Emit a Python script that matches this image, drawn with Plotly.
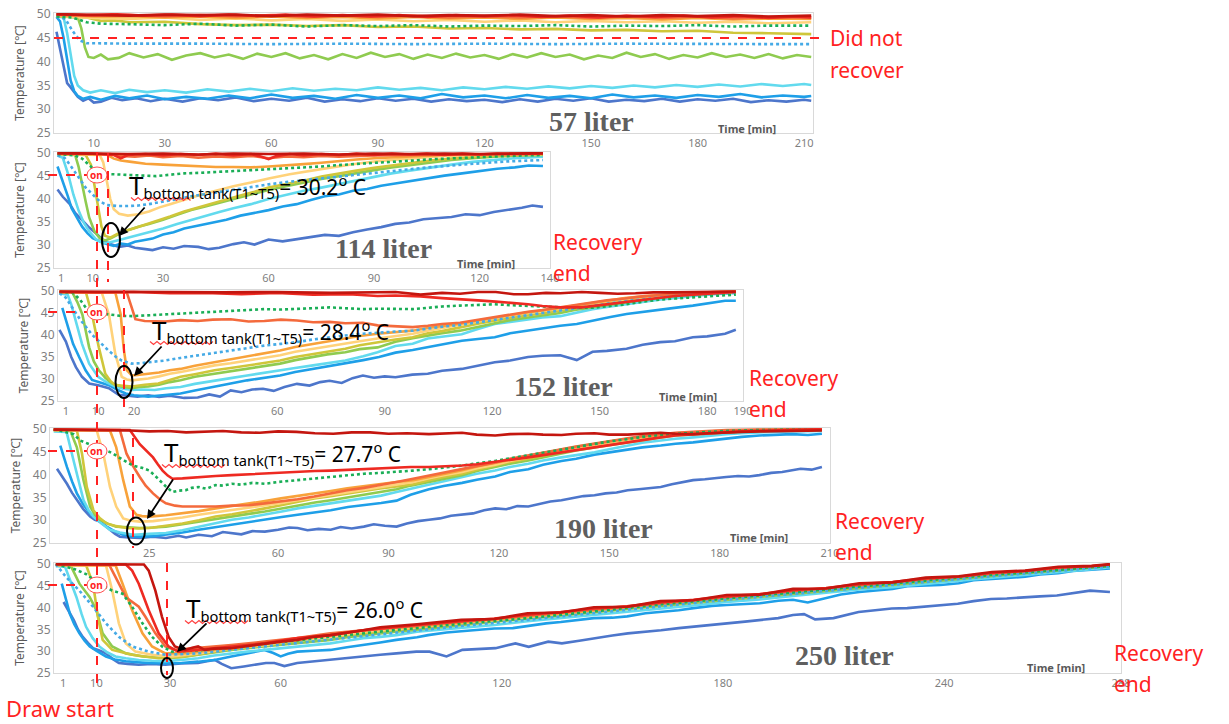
import plotly.graph_objects as go

# ---------------- DATA (time [min], temperature [°C]) ----------------
TIME_LABEL = "Time [min]"
TANK_LABELS = ["57 liter", "114 liter", "152 liter", "190 liter", "250 liter"]
BOTTOM_T = ["30.2", "28.4", "27.7", "26.0"]
Y_TICKS = [25, 30, 35, 40, 45, 50]
X_TICKS_57 = [10, 30, 60, 90, 120, 150, 180, 210]
X_TICKS_114 = [1, 10, 30, 60, 90, 120, 140]
X_TICKS_152 = [1, 10, 20, 60, 90, 120, 150, 180, 190]
X_TICKS_190 = [25, 60, 90, 120, 150, 180, 210]
X_TICKS_250 = [1, 10, 30, 60, 120, 180, 240, 288]
SETPOINT = 45

# ---- 57 liter ----
V57_T1 = [[-0.5,46.3],[0.5,42.5],[1.5,38.5],[2.5,35.5],[3.5,34.6],[4.5,33.5],[5.5,32.6],[7,31.8],[8.5,32.3],[10,31.4],[12,31.6],[15,32.4],[18,31.9],[22,32.3],[26,31.7],[30,32.2],[35,31.6],[40,32.3],[45,31.9],[50,32.5],[55,31.7],[60,32.2],[65,31.8],[70,32.4],[75,31.6],[80,32.1],[85,31.7],[90,32.3],[95,31.8],[100,32.2],[105,31.6],[110,32.1],[115,31.7],[120,32.0],[125,31.5],[130,32.1],[135,31.6],[140,32.2],[145,31.8],[150,32.3],[155,31.6],[160,32.0],[165,31.7],[170,32.2],[175,31.6],[180,32.1],[185,31.8],[190,32.2],[195,31.5],[200,31.9],[205,31.6],[210,32.0],[212,31.8]]
V57_T2 = [[-0.5,49.4],[0.5,48.5],[1.5,45],[2.5,40],[3.5,36],[4.5,33.8],[5.5,32.8],[7,32.2],[9,32.6],[12,32.0],[16,32.8],[20,32.3],[25,32.9],[30,32.1],[36,32.6],[42,32.2],[48,32.9],[54,32.3],[60,33.1],[66,32.4],[72,32.8],[78,32.2],[84,33.0],[90,32.4],[96,32.9],[102,32.3],[108,33.2],[114,32.5],[120,32.9],[126,32.3],[132,33.0],[138,32.4],[144,32.8],[150,32.3],[156,33.1],[162,32.5],[168,32.9],[174,32.4],[180,33.0],[186,32.6],[192,33.2],[198,32.5],[204,32.9],[210,32.6],[212,32.8]]
V57_T3 = [[-0.5,49.5],[1.5,49.3],[2.5,46],[3.5,41],[4.5,37],[5.5,35],[7,34],[9,33.5],[12,34],[16,33.4],[20,34.1],[25,33.6],[30,34],[36,33.5],[42,34.2],[48,33.7],[54,34.3],[60,33.8],[66,34.4],[72,33.9],[78,34.3],[84,34.0],[90,34.6],[96,34.1],[102,34.5],[108,34.0],[114,34.6],[120,34.2],[126,34.7],[132,34.3],[138,34.8],[144,34.4],[150,34.9],[156,34.5],[162,35.0],[168,34.6],[174,35.1],[180,34.7],[186,35.2],[192,34.8],[198,35.3],[204,34.9],[210,35.3],[212,35.1]]
V57_T4 = [[-0.5,49.6],[5.5,49.3],[6.5,47],[7.5,43],[8.5,41],[10,40.8],[12,41.5],[14,40.5],[17,40.8],[20,41.8],[24,40.9],[28,41.6],[32,40.4],[36,41.3],[40,41.8],[44,40.9],[48,41.5],[52,40.6],[56,41.7],[60,41.0],[64,41.8],[68,40.7],[72,41.4],[76,40.5],[80,41.6],[84,40.8],[88,41.9],[92,41.0],[96,41.6],[100,40.6],[104,41.5],[108,40.8],[112,41.7],[116,40.9],[120,41.4],[124,40.6],[128,41.6],[132,40.9],[136,41.8],[140,41.0],[144,41.5],[148,40.5],[152,41.3],[156,40.8],[160,41.9],[164,41.0],[168,41.6],[172,40.6],[176,41.4],[180,40.9],[184,41.8],[188,41.0],[192,41.5],[196,40.8],[200,41.6],[204,40.7],[208,41.4],[212,41.0]]
V57_T5 = [[-0.5,49.6],[8,49.3],[12,48.6],[16,48.7],[20,48.3],[30,48.4],[40,47.9],[50,47.7],[60,47.8],[70,47.5],[80,47.7],[90,47.3],[100,47.4],[110,47.0],[120,47.1],[130,46.8],[140,46.9],[150,46.6],[160,46.7],[170,46.4],[180,46.5],[190,46.1],[200,46.0],[212,45.8]]
V57_T6 = [[-0.5,49.7],[10,49.2],[20,49.0],[30,49.3],[40,48.8],[50,49.1],[60,48.7],[70,49.0],[80,48.6],[90,48.9],[100,48.5],[110,48.8],[120,48.4],[130,48.7],[140,48.3],[150,48.6],[160,48.3],[170,48.5],[180,48.2],[190,48.4],[200,48.1],[212,48.3]]
V57_T7 = [[-0.5,49.8],[10,49.5],[20,49.6],[30,49.3],[40,49.5],[50,49.2],[60,49.5],[70,49.2],[80,49.4],[90,49.1],[100,49.4],[110,49.1],[120,49.3],[130,49.0],[140,49.3],[150,49.0],[160,49.2],[170,48.9],[180,49.2],[190,48.9],[200,49.1],[212,49.0]]
V57_T8 = [[-0.5,49.9],[10,49.7],[20,49.8],[30,49.5],[40,49.8],[50,49.5],[60,49.8],[70,49.4],[80,49.7],[90,49.4],[100,49.7],[110,49.3],[120,49.6],[130,49.3],[140,49.6],[150,49.2],[160,49.5],[170,49.2],[180,49.5],[190,49.1],[200,49.4],[212,49.2]]
V57_T9 = [[-0.5,50],[8,49.8],[16,50],[24,49.7],[32,49.9],[40,49.6],[48,49.9],[56,49.6],[64,49.9],[72,49.5],[80,49.8],[88,49.5],[96,49.8],[104,49.4],[112,49.8],[120,49.5],[128,49.8],[136,49.4],[144,49.7],[152,49.3],[160,49.7],[168,49.4],[176,49.7],[184,49.3],[192,49.6],[200,49.2],[208,49.5],[212,49.3]]
V57_T10 = [[-0.5,50],[10,49.9],[20,49.7],[30,49.9],[40,49.8],[50,49.9],[60,49.6],[70,49.9],[80,49.7],[90,49.9],[100,49.6],[110,49.8],[120,49.7],[130,49.9],[140,49.6],[150,49.8],[160,49.5],[170,49.8],[180,49.6],[190,49.8],[200,49.5],[212,49.7]]
V57_D1 = [[-0.5,49.5],[4,49.3],[8,48.3],[12,48.0],[20,47.9],[30,47.7],[40,48.0],[50,47.6],[60,47.8],[70,47.4],[80,47.7],[90,47.5],[100,47.7],[110,47.4],[120,47.6],[130,47.5],[140,47.7],[150,47.4],[160,47.6],[170,47.5],[180,47.7],[190,47.4],[200,47.6],[212,47.6]]
V57_D2 = [[-0.5,49.5],[2,49.0],[4,46.5],[6,44.5],[8,43.9],[20,43.8],[40,43.8],[60,43.7],[80,43.8],[100,43.7],[120,43.8],[140,43.7],[160,43.8],[180,43.7],[200,43.7],[212,43.7]]

# ---- 114 liter ----
V114_T1 = [[0,42.1],[1.5,40.5],[3.5,38.9],[5,37],[7,35.4],[9,33.8],[11,32.5],[13,31],[15,30.2],[17.5,29.6],[20,29.9],[22,29.4],[25,29.1],[27,28.9],[30,29.5],[33,29.2],[36,29.8],[40,29.6],[43,29.1],[46,29.4],[50,30.2],[53,30.6],[56,30.1],[60,31.2],[64,30.8],[68,31.3],[72,31.7],[76,32.2],[80,32.0],[84,32.8],[88,33.4],[92,33.9],[96,34.6],[100,34.9],[104,35.6],[108,35.9],[112,36.1],[116,36.7],[120,36.5],[124,37.2],[128,37.6],[132,38.1],[135,38.6],[138,38.3]]
V114_T2 = [[0,47.1],[1,45],[2,43],[3,40.5],[4,38],[5.5,36],[7,34],[8.5,32.6],[10,31.5],[12,30.8],[14,30.2],[16,29.8],[18,30.3],[20,30.1],[22,30.7],[24,31.0],[27,31.4],[30,32.3],[33,32.8],[36,33.6],[40,34.2],[44,34.8],[48,35.5],[52,36.4],[56,37.0],[60,37.6],[64,38.4],[68,38.9],[72,39.8],[76,40.6],[80,41.0],[84,41.8],[88,42.2],[92,42.9],[96,43.4],[100,43.9],[105,44.6],[110,45.1],[115,45.6],[120,46.1],[125,46.6],[130,46.9],[134,47.3],[138,47.2]]
V114_T3 = [[0,49.5],[1.5,49],[3,45.5],[4.5,41],[6,37.5],[7.5,34.8],[9,33],[11,31.2],[13,30.4],[15,30.6],[17,31],[20,31.6],[23,32.3],[26,32.9],[30,33.6],[34,34.6],[38,35.5],[42,36.3],[46,37.2],[50,38],[55,38.9],[60,40],[65,40.9],[70,41.8],[75,42.5],[80,43.3],[85,44.1],[90,44.9],[95,45.6],[100,46.2],[106,46.9],[112,47.5],[118,48.1],[124,48.5],[130,48.9],[138,49.2]]
V114_T4 = [[0,49.8],[5,49.6],[6,47],[7,43],[8,39.5],[9,36],[10.5,33],[12,31.5],[13.5,31],[15,31.4],[17,32.2],[20,33.2],[23,34],[26,34.6],[30,35.5],[34,36.6],[38,37.6],[42,38.4],[46,39.2],[50,40],[55,41],[60,42],[65,42.8],[70,43.6],[75,44.4],[80,45],[85,45.7],[90,46.3],[95,46.9],[100,47.4],[106,48],[112,48.5],[118,48.9],[125,49.3],[132,49.5],[138,49.6]]
V114_T5 = [[0,49.8],[8,49.6],[9.5,47.5],[10.5,43],[11.5,38],[12.5,34],[13.5,32],[15,31.6],[17,32.4],[19,33],[22,33.7],[25,34.4],[28,35.2],[32,36.2],[36,37.3],[40,38.2],[44,39.1],[48,40],[52,40.8],[56,41.6],[60,42.5],[65,43.3],[70,44],[75,44.9],[80,45.6],[85,46.2],[90,46.8],[95,47.3],[100,47.8],[106,48.4],[112,48.8],[118,49.2],[125,49.5],[138,49.7]]
V114_T6 = [[0,49.8],[12,49.6],[13,48],[14,44],[15,40],[16,37.8],[17.5,36.8],[20,36.4],[23,36.7],[26,37.3],[29,38.2],[32,38.9],[36,39.9],[40,40.8],[45,41.8],[50,42.8],[55,43.6],[60,44.5],[66,45.4],[72,46.2],[78,46.9],[84,47.6],[90,48.2],[96,48.6],[102,49],[110,49.4],[120,49.6],[138,49.8]]
V114_T7 = [[0,49.8],[14,49.7],[16,48.8],[18,48.4],[21,48.1],[25,47.7],[30,47.5],[35,47.3],[40,47.2],[45,47.0],[50,47.0],[55,46.9],[60,47.1],[65,47.3],[70,47.6],[75,47.9],[80,48.3],[85,48.6],[90,48.9],[95,49.1],[100,49.3],[110,49.6],[120,49.7],[138,49.9]]
V114_T8 = [[0,49.9],[15,49.8],[18,49.4],[22,49.2],[26,49.5],[30,49.1],[35,49.4],[40,49.0],[45,49.3],[50,49.1],[55,49.4],[60,48.9],[65,49.3],[70,49.1],[75,49.4],[80,49.2],[90,49.5],[100,49.6],[110,49.7],[120,49.8],[138,49.9]]
V114_T9 = [[0,50],[10,49.9],[16,49.6],[18,48.9],[20,49.6],[25,49.8],[30,49.5],[35,49.8],[40,49.6],[45,49.9],[50,49.5],[55,49.8],[58,49.2],[60,48.7],[62,49.3],[66,49.8],[70,49.5],[75,49.8],[80,49.6],[85,49.9],[90,49.6],[95,49.9],[100,49.7],[105,49.9],[110,49.6],[115,49.9],[120,49.7],[125,49.9],[130,49.8],[138,49.9]]
V114_T10 = [[0,50],[10,49.9],[20,49.8],[30,49.9],[40,49.7],[50,49.9],[60,49.8],[70,49.9],[80,49.7],[90,49.9],[100,49.8],[110,49.9],[120,49.8],[138,50]]
V114_D1 = [[0,49.8],[5,49.5],[7,48.8],[9,47.5],[11,46],[13,45.5],[16,45.4],[20,45.3],[24,45.2],[28,45],[32,45.3],[36,45.6],[40,45.7],[45,45.9],[50,46],[55,46.2],[60,46.4],[65,46.6],[70,46.9],[75,47.1],[80,47.4],[85,47.7],[90,47.9],[95,48.1],[100,48.4],[105,48.6],[110,48.8],[118,49.1],[126,49.3],[132,49.5],[138,49.6]]
V114_D2 = [[0,49.5],[2,49],[3.5,47.5],[5,45.8],[6.5,44],[8,42.5],[10,41],[12,39.5],[14,38.7],[17,38.5],[20,38.5],[23,38.6],[26,38.9],[30,39.4],[34,40],[38,40.6],[42,41.1],[46,41.6],[50,42.1],[55,42.7],[60,43.2],[65,43.7],[70,44.1],[75,44.6],[80,45],[86,45.5],[92,45.9],[98,46.4],[104,46.8],[110,47.2],[116,47.6],[122,47.9],[128,48.2],[133,48.4],[138,48.5]]

# ---- 152 liter ----
V152_T1 = [[-0.8,41.2],[1,38.5],[2.5,35],[3.8,32.7],[5.5,30.5],[7.5,29],[10,28.6],[13,27.9],[15.7,26.4],[18,26.2],[21,26],[24,26.3],[27,25.9],[30,26.2],[34,25.7],[37.8,25.8],[41,26.5],[44,26.0],[47,27.4],[50,27.0],[53,27.6],[56,27.8],[59,27.3],[62,28.2],[65.5,28.9],[69,28.5],[72,29.3],[74.6,29.6],[78,29.1],[81,30.2],[83.9,30.8],[87,30.3],[90,30.6],[93,30.4],[97.7,31],[102,31.2],[106,31.9],[111.5,32.3],[116,33.1],[120.7,33.8],[125,34.2],[130,35],[134,35.3],[139,35.4],[143.6,34.3],[148,36.2],[152,36.4],[157.5,36.9],[162,37.8],[166.9,38.4],[171,38.6],[176,39.5],[180,39.7],[185,40.3],[188,41.2]]
V152_T2 = [[0,46.2],[1.5,42],[3,38],[4.7,35],[6.5,32],[8.3,29.8],[10.5,29.2],[13,28.6],[15.5,27.5],[17.7,26.7],[20,26.3],[24,26],[28,26.3],[33,26.7],[37,27.4],[42.5,28.2],[47,29],[51.6,29.7],[56,30.2],[60.8,30.8],[65,31.6],[70,32.3],[74,32.9],[79,33.5],[84,34.3],[88.4,35],[93,36],[97.8,36.6],[102,37.2],[107,37.9],[111.5,38.7],[116,39.1],[120.7,39.5],[125,40.4],[130,41],[134,41.6],[139,42.1],[143.6,42.5],[148,43.3],[153,44.1],[157.5,44.8],[162,45.3],[167,45.9],[172,46.3],[176,46.7],[181,47.3],[185,47.8],[188,47.8]]
V152_T3 = [[-0.8,49.5],[1.5,49.2],[2.5,47],[3.8,43.2],[5.5,38],[7.5,33.5],[10,30.5],[12.5,29.2],[14.8,28.3],[17,27.8],[19.5,27.5],[22,27.6],[25.8,27.5],[29,27.9],[33,28.2],[37,28.9],[42.5,29.7],[47,30.2],[51.6,30.8],[56,31.4],[60.8,32],[65,32.5],[70,33.1],[74,33.6],[79,34.2],[84,35.2],[88,36.1],[93,37.5],[97.8,38],[102,39.2],[107,39.7],[111.5,40.2],[116,41.4],[120.7,42.5],[125,43],[130,43.6],[134,44],[139,44.3],[143.6,45.1],[148,45.9],[153,46.5],[157.5,47],[162,47.6],[167,48.1],[172,48.5],[176,48.9],[182,49.3],[188,49.6]]
V152_T4 = [[-0.8,49.8],[2.8,49.7],[4.2,47.5],[5.6,44.7],[7.5,37.2],[8.8,34],[10.2,32],[12,30.3],[13.9,29],[16.5,28.3],[19.4,27.9],[21.5,28.2],[24,28.3],[27,28.7],[30,29.3],[33,29.7],[37,30.5],[42.5,31.2],[47,31.8],[51.6,32.3],[56,33],[60.8,33.5],[65,34.3],[70,35],[74,35.6],[79,36.1],[83,36.8],[88,37.2],[93,38.5],[97.8,39.3],[102,39.9],[106,40.4],[111,41],[116,41.9],[121,42.8],[125,43.4],[130,44],[134,44.4],[139,45],[143,45.7],[148,46.3],[152,46.8],[157,47.5],[162,48],[167,48.5],[171,48.9],[176,49.2],[182,49.5],[188,49.7]]
V152_T5 = [[-0.8,49.8],[6.6,49.7],[8.3,44.7],[10.2,37.2],[12,31.2],[13.5,29.5],[14.8,28.6],[17,28.4],[19.4,28.3],[23,28.7],[26.8,29],[30,29.8],[33,30.5],[37,31.1],[42.5,32],[47,32.5],[51.6,33.1],[56,33.7],[60.8,34.2],[65,35],[70,35.7],[74,36.3],[79,36.9],[83,37.7],[88,38.4],[93,39],[97.8,39.5],[102,40.4],[106,40.9],[111,41.8],[116,42.6],[121,43.3],[125,43.9],[130,44.5],[134,44.9],[139,45.5],[143,46.1],[148,46.8],[152,47.2],[157,47.8],[162,48.3],[167,48.8],[171,49.1],[176,49.4],[182,49.6],[188,49.8]]
V152_T6 = [[-0.8,49.8],[11,49.7],[13,44.7],[14.8,35.7],[16.6,30.5],[18,29.9],[19.4,29.7],[22,29.9],[24,30.1],[27,30.6],[30,31.2],[33,31.6],[37,32.3],[42.5,33.1],[47,33.6],[51.6,34.2],[56,34.8],[60.8,35.4],[65,36.2],[70,36.9],[74,37.4],[79,38],[83,38.6],[88,39.2],[93,39.8],[97.8,40.3],[102,41],[106,41.6],[111,42.3],[116,43.1],[121,43.8],[125,44.4],[130,45],[134,45.4],[139,46],[143,46.5],[148,47.2],[152,47.6],[157,48.2],[162,48.6],[167,49],[171,49.3],[176,49.5],[182,49.7],[188,49.8]]
V152_T7 = [[-0.8,49.8],[14.8,49.7],[16.3,44.7],[17.1,37.2],[18,32],[19.4,30.8],[21,30.9],[24,31.2],[27,31.5],[30,32],[33,32.3],[37,33],[42.5,33.8],[47,34.4],[51.6,35],[56,35.8],[60.8,36.5],[65,37.3],[70,38],[74,38.6],[79,39.2],[83,39.8],[88,40.3],[93,40.7],[97.8,41],[102,41.6],[106,42],[111,42.6],[116,43.3],[121,44],[125,44.6],[130,45.2],[134,45.6],[139,46.2],[143,46.7],[148,47.4],[152,47.8],[157,48.4],[162,48.8],[167,49.1],[171,49.4],[176,49.6],[182,49.8],[188,49.9]]
V152_T8 = [[-0.8,49.8],[18,49.7],[19.4,46.2],[20.4,43.6],[23,43.2],[28.7,43.1],[33,43.4],[37.8,43.2],[42,43.5],[47,43.6],[52,43.1],[56.4,43.2],[61,43.5],[65.5,43.3],[70,42.9],[74.6,43.0],[79,42.7],[83.9,42.8],[88,42.2],[93,42.0],[97.8,41.8],[102,42.1],[106,42.5],[111,42.8],[116,43.5],[121,44.1],[125,44.7],[130,45.3],[134,45.7],[139,46.3],[143,46.8],[148,47.4],[152,47.9],[157,48.3],[162,48.8],[167,49.1],[171,49.4],[176,49.6],[182,49.8],[188,49.9]]
V152_T9 = [[-0.8,49.8],[10,49.7],[20,49.8],[30,49.5],[40,49.6],[50,49.3],[60,49.6],[70,49.2],[80,49.3],[88,48.9],[93,49],[100,48.8],[106,48.4],[111,48.2],[116,47.9],[121,47.6],[125,47.4],[130,47],[134,46.6],[139,46.3],[145,46.3],[150,46.8],[157,47.5],[162,48],[167,48.5],[171,48.9],[176,49.2],[182,49.5],[188,49.8]]
V152_T10 = [[-0.8,49.9],[15,49.9],[30,49.8],[45,49.7],[60,49.8],[75,49.6],[88,49.8],[93,49.8],[100,49.2],[106,49.6],[111,49.4],[116,49.8],[121,49.8],[126,49.3],[130,49.3],[135,49.6],[139,49.5],[145,49.8],[150,49.6],[155,49.4],[160,49.5],[165,49.7],[170,49.7],[176,49.8],[182,49.8],[188,49.9]]
V152_D1 = [[-0.8,49.8],[3,49.6],[5,48],[6.6,46.2],[9,45.3],[11,44.9],[13,44.7],[16,44.4],[19.4,44.3],[24,44.5],[28.7,44.7],[33,44.8],[37.8,45],[42,45.3],[47,45.5],[51,45.7],[56.4,45.9],[61,45.8],[65.5,45.9],[70,46.1],[74.6,46.3],[79,46.1],[83.9,45.9],[88,46],[93,45.9],[97.8,45.9],[102,46.2],[106,46.5],[111,46.7],[116,46.9],[120.7,47],[125,46.8],[130,46.6],[134,46.4],[139,46.2],[143,46.2],[148,46.2],[152,46.5],[157.5,47],[162,47.6],[167,48.1],[171,48.3],[176,48.5],[182,48.9],[188,49.2]]
V152_D2 = [[-0.8,49.5],[1,48.5],[2.8,46.2],[5,43.5],[8.3,40.1],[10.5,38.3],[13,36.4],[15,35],[16.6,34.2],[19.4,33.5],[22,33.6],[25,33.9],[28.7,34.2],[33,34.8],[37.8,35.4],[42,35.9],[47,36.5],[51,37],[56.4,37.6],[61,38],[65.5,38.4],[70,39],[74.6,39.5],[79,39.9],[83.9,40.3],[88,40.6],[93,40.8],[97.8,41],[102,41.5],[106,41.9],[111,42.3],[116,42.9],[121,43.5],[125,44],[130,44.6],[134,45],[139,45.6],[143,46.1],[148,46.7],[152,47.1],[157,47.7],[162,48.1],[167,48.6],[171,48.9],[176,49.2],[182,49.4],[188,49.6]]

# ---- 190 liter ----
V190_T1 = [[-0.1,41.3],[1.3,39.6],[2.6,38],[4,36],[5.3,34.4],[7,32.5],[8.9,30.8],[10.2,30.1],[11.6,29.7],[13,28.7],[14.3,27.9],[15.7,27],[17,26.4],[19.5,26.2],[22.4,26.1],[26,26.4],[29.5,26.1],[33,26.6],[35,26.2],[38.4,26.8],[42,26.5],[45,27.4],[47.4,27.2],[50,26.9],[53,27.6],[56.4,27.5],[60,27.9],[63,28.4],[65.3,28.3],[68,27.8],[71,28.1],[74.3,27.9],[77,28.5],[80,28.2],[83.3,28.6],[86,29.1],[89,28.8],[92.2,28.6],[95,29.3],[98,29.8],[101,30.1],[104,30.4],[107,31.0],[110,31.2],[113,31.5],[116,32.2],[119,32.6],[122,32.4],[125,33.1],[128,33],[131,33.6],[134,34.1],[137,34.4],[140,34.8],[143,35.3],[146,35.5],[149,35.9],[152,36.1],[155,36.6],[158,36.8],[161,37.1],[164,37.3],[167,37.9],[170,38.4],[172.8,38.8],[176,39.0],[179,39.3],[181.8,39.5],[185,39.7],[188,39.6],[190.8,39.9],[194,40.4],[197,40.6],[199.7,40.9],[202,41.3],[205,41.1],[207.8,41.7]]
V190_T2 = [[0.8,46.4],[1.7,44],[2.6,41.7],[4,38.5],[5.3,35.9],[7,33.5],[8.9,31.5],[11,30],[13.4,28.6],[15.5,27.6],[17.9,26.8],[20,26.5],[22.4,26.4],[26,26.5],[29.5,26.8],[34,27.3],[38.4,27.9],[43,28.5],[47.4,29],[52,29.6],[56.4,30.1],[61,30.7],[65.3,31.2],[70,31.7],[74.3,32.2],[79,32.9],[83.3,33.3],[88,33.8],[92.2,34.3],[96,35.6],[101,36.8],[105,37.5],[110,38.2],[114,38.9],[119,39.6],[123,40.6],[128,41.2],[132,42.2],[137,43],[141,43.5],[146,44.4],[150,44.9],[155,45.6],[159,46],[164,46.4],[168,46.8],[172.8,47.1],[177,47.5],[181.8,47.8],[186,48.3],[190.8,48.6],[195,48.7],[199.7,48.9],[204,48.7],[207.8,49]]
V190_T3 = [[-1,49.5],[2.5,49.4],[4.4,43.1],[5.8,38.5],[7.1,34.4],[8.5,32.2],[9.8,30.8],[12,29.3],[14.3,27.9],[17,27.3],[20.5,26.8],[25,27],[29.5,27.2],[34,27.8],[38.4,28.6],[43,29.4],[47.4,30.1],[52,30.6],[56.4,31.2],[61,31.9],[65.3,32.6],[70,33.2],[74.3,33.7],[79,34.3],[83.3,34.8],[88,35.4],[92.2,36.2],[96,36.9],[101,37.7],[105,38.6],[110,39.5],[114,40.2],[119,40.9],[123,41.7],[128,42.4],[132,43.1],[137,43.8],[141,44.3],[146,44.9],[150,45.6],[155,46.4],[159,47],[164,47.5],[168,47.9],[172.8,48.2],[177,48.6],[181.8,48.9],[186,49.1],[190.8,49.3],[199.7,49.5],[207.8,49.6]]
V190_T4 = [[-1,49.8],[3.5,49.7],[5.3,46],[7.1,38.8],[8.9,33],[10.2,31.2],[11.6,30.1],[13.8,29.2],[16,28.6],[19,28.4],[22.4,28.3],[26,28.4],[29.5,28.6],[34,29.1],[38.4,29.7],[43,30.2],[47.4,30.8],[52,31.4],[56.4,31.9],[61,32.6],[65.3,33.3],[70,33.9],[74.3,34.4],[79,35],[83.3,35.5],[88,36.1],[92.2,36.8],[96,37.6],[101,38.4],[105,39.1],[110,39.9],[114,40.8],[119,41.7],[123,42.4],[128,43.1],[132,43.8],[137,44.6],[141,45.3],[146,46],[150,46.5],[155,47.1],[159,47.7],[164,48.2],[168,48.6],[172.8,48.9],[177,49.1],[181.8,49.3],[190.8,49.6],[207.8,49.8]]
V190_T5 = [[-1,49.8],[5.3,49.7],[6.7,44.6],[8,37.3],[9.8,32.2],[11.5,30.5],[13.4,29.3],[16,28.7],[18.8,28.3],[22,28.2],[25,28.3],[29.5,28.8],[34,29.3],[38.5,30],[43,30.8],[47.5,31.3],[52,31.9],[56.4,32.6],[60.8,33.3],[65.3,34.1],[69.8,34.8],[74.3,35.3],[78.8,35.9],[83.3,36.5],[87.7,37],[92.2,37.4],[96.7,37.9],[101,38.8],[105,39.5],[110,40.2],[114,41.1],[119,42],[123,42.8],[128,43.5],[132,44.2],[137,45],[141,45.6],[146,46.3],[150,46.8],[155,47.4],[159,47.9],[164,48.4],[168,48.8],[172.8,49.1],[177,49.3],[181.8,49.5],[190.8,49.7],[207.8,49.9]]
V190_T6 = [[-1,49.8],[10.7,49.7],[12.5,44.6],[14.3,37.3],[16,33],[17.9,30.4],[20,29.9],[22.4,29.7],[26,29.8],[29.5,30.1],[34,30.6],[38.4,31.2],[43,31.7],[47.4,32.2],[52,32.8],[56.4,33.3],[61,33.8],[65.3,34.4],[70,35],[74.3,35.5],[79,36.1],[83.3,36.6],[88,37.2],[92.2,37.7],[96.7,38.4],[101,39.2],[105,39.9],[110,40.6],[114,41.4],[119,42.2],[123,43],[128,43.8],[132,44.5],[137,45.2],[141,45.8],[146,46.5],[150,47],[155,47.6],[159,48.1],[164,48.6],[168,48.9],[172.8,49.2],[177,49.4],[181.8,49.6],[190.8,49.8],[207.8,49.9]]
V190_T7 = [[-1,49.8],[14.3,49.7],[16,46],[17.9,38.8],[19.7,33],[21.5,31.2],[23,30.9],[25,30.8],[29.5,31.1],[34,31.5],[38.5,32],[43,32.6],[47.5,33.1],[52,33.7],[56.4,34.2],[60.8,34.8],[65.3,35.3],[69.8,35.9],[74.3,36.4],[78.8,37],[83.3,37.5],[87.7,38],[92.2,38.4],[96.7,38.8],[101,39.5],[105,40.2],[110,41],[114,41.8],[119,42.6],[123,43.4],[128,44.2],[132,44.8],[137,45.5],[141,46.1],[146,46.8],[150,47.3],[155,47.9],[159,48.3],[164,48.8],[168,49.1],[172.8,49.3],[177,49.5],[181.8,49.7],[190.8,49.8],[207.8,49.9]]
V190_T8 = [[-1,49.9],[17,49.8],[18.8,44.6],[20.5,42],[22.4,39.5],[24,37.6],[26,35.9],[28,34.5],[29.5,33.7],[32,33.2],[34,33],[38.5,33],[43,33],[47.5,33.2],[52,33.3],[56.4,33.7],[60.8,34.1],[65.3,34.6],[69.8,35.2],[74.3,35.9],[78.8,36.6],[83.3,37.1],[87.7,37.7],[92.2,38.4],[96.7,39.1],[101,39.8],[105,40.5],[110,41.2],[114,41.9],[119,42.7],[123,43.5],[128,44.3],[132,44.9],[137,45.6],[141,46.2],[146,46.9],[150,47.4],[155,48],[159,48.5],[164,48.9],[168,49.2],[172.8,49.4],[177,49.6],[181.8,49.8],[190.8,49.9],[207.8,50]]
V190_T9 = [[-1,49.9],[19.7,49.8],[22.4,46.7],[24,45.5],[26,43.8],[27.3,42.3],[28.6,40.9],[30,39.8],[31.3,39.1],[34,39.2],[38.4,39.5],[43,39.7],[47.4,39.9],[52,40.1],[56.4,40.2],[61,40.4],[65.3,40.6],[70,40.8],[74.3,40.9],[79,41.1],[83.3,41.3],[88,41.5],[92.2,41.7],[96,41.7],[101,41.7],[105,41.8],[110,42],[114,42.3],[119,42.8],[123,43.3],[128,43.8],[132,44.3],[137,44.9],[141,45.4],[146,46],[150,46.6],[155,47.1],[159,47.7],[164,48.2],[168,48.6],[172.8,48.9],[177,49.1],[181.8,49.3],[186,49.5],[190.8,49.6],[199.7,49.8],[207.8,50]]
V190_T10 = [[-1,49.9],[15,49.8],[20,49.7],[25,49.5],[30,49.6],[35,49.3],[40,49.4],[45,49.6],[50,49.3],[55,49.2],[60,49.5],[65,49.4],[70,49.1],[75,49],[80,49.3],[85,49.3],[90,49.0],[95,49.1],[101,48.9],[105,49.1],[110,49.2],[114,48.8],[119,48.6],[123,48.9],[128,49.0],[132,48.8],[137,48.7],[141,49.0],[146,49.1],[150,48.8],[155,48.8],[159,49.0],[164,49.2],[168,49.0],[172.8,48.9],[177,49.1],[181.8,49.3],[186,49.4],[190.8,49.5],[199.7,49.6],[207.8,49.7]]
V190_D1 = [[-1,50],[4.4,48.9],[6.2,47.5],[9,46.6],[11.6,46],[13.5,45.3],[15.2,44.6],[17.5,43.4],[20.5,42],[23,41.5],[25,40.9],[26.5,39.8],[27.7,38.8],[29.5,37.4],[31.3,36.2],[33,36.5],[34.9,36.6],[36.5,37.1],[38.4,37.3],[40.5,36.9],[43,37.7],[45,37.6],[47.4,38],[50,37.8],[53,38.2],[56.4,38],[60,38.4],[65.3,38.8],[70,39.2],[74.3,39.5],[79,39.9],[83.3,40.2],[88,40.4],[92.2,40.6],[96.7,40.9],[101,41.2],[105,41.5],[110,42],[114,42.5],[119,43],[123,43.6],[128,44.3],[132,44.9],[137,45.6],[141,46.2],[146,46.8],[150,47.3],[155,47.8],[159,48.3],[164,48.7],[168,49],[172.8,49.2],[177,49.4],[181.8,49.6],[190.8,49.8],[207.8,49.9]]

# ---- 250 liter ----
V250_T1 = [[1.1,41.3],[2.5,39.2],[3.9,37.1],[5,35],[6.3,33.3],[7.7,31.9],[9.1,30.7],[10.8,30.2],[12.6,29.5],[14.3,28.3],[16.1,27.3],[18.5,27.1],[21.5,26.9],[25,27.1],[28.7,26.9],[33,27.2],[37.6,27.3],[40,27.7],[42.1,28],[44,27.1],[46.6,26.1],[50,26.5],[53.8,26.9],[56,27.3],[58.3,27.3],[61,26.6],[64.5,27.3],[69,27.7],[73.5,28],[78,28.4],[82.4,28.8],[87,29.2],[91.4,29.5],[96.8,29.9],[100.4,29.9],[105,28.8],[109.3,30.3],[114,30.5],[118.3,30.7],[123.7,31.8],[127.3,31],[132.6,32.2],[136.3,31.8],[141,32.4],[145.2,33],[150,33.6],[154.2,34.1],[159,34.4],[163.2,34.8],[168,35.3],[172.1,35.6],[177,36.1],[181.1,36.4],[186,36.8],[190,37.1],[195,37.6],[199,38.3],[202,38.5],[205,37.3],[210,37.6],[216.8,39],[221,39.4],[225.8,39.8],[230,39.9],[234.7,40.2],[239,40.6],[243.7,40.9],[248,41.5],[252.7,42],[257,42.1],[261.6,42.4],[266,42.6],[270.6,42.8],[275,43.4],[279.6,43.9],[285,43.6]]
V250_T2 = [[0.6,45.5],[1.7,42],[2.8,38.6],[4,36.2],[5.4,34.1],[6.8,32.4],[8.2,31.1],[10.4,29.9],[12.6,28.8],[15,28.1],[18,27.7],[21,27.5],[24.2,27.3],[28.7,27.2],[33.1,27.3],[37.6,27.6],[42.1,28],[46.6,28.8],[51,29.5],[55.6,30.3],[58,29.6],[60,28.8],[62,29.4],[64.5,29.9],[69,30.1],[73.5,30.3],[78,30.9],[82.4,31.4],[87,32],[91.4,32.6],[97,33.2],[100,33.7],[105,34.3],[109,34.6],[114,35.0],[118,35.2],[123,35.3],[127,35.8],[132,36.4],[136,36.7],[141,37.2],[145,37.6],[150,37.7],[154,38.0],[159,38.7],[163,39.0],[168,39.4],[172,39.9],[177,40.4],[181,40.6],[186,40.9],[190,41.0],[195,41.6],[199,41.8],[203,41.2],[208,42.2],[212,43.0],[217,43.6],[221,43.9],[226,44.3],[230,44.9],[235,45.1],[239,45.2],[244,45.6],[248,46.3],[253,46.6],[257,46.8],[262,47.1],[266,47.6],[271,47.9],[275,48.4],[280,48.7],[285,49.0]]
V250_T3 = [[-1,49.5],[1.5,49.4],[3,46],[4.6,42.4],[6,38.5],[7.2,35.6],[9,33],[10.8,31.1],[13,29.7],[15.2,28.8],[18,28.4],[21.5,28],[25,27.8],[28.7,27.7],[33,28],[37.6,28.4],[42,29],[46.6,29.5],[51,29.9],[55.6,30.3],[60,30.7],[64.5,31.1],[69,31.4],[73.5,31.8],[78,32.4],[82.4,33],[87,33.3],[91.4,33.7],[97,34.5],[109,35.4],[118,36.0],[127,36.9],[136,37.6],[145,38.3],[154,39.1],[163,39.8],[172,40.5],[181,41.3],[190,41.9],[199,42.7],[208,43.4],[217,44.2],[226,44.7],[235,45.5],[244,46.2],[253,46.9],[262,47.5],[271,48.2],[280,48.8],[285,49.3]]
V250_T4 = [[-1,49.8],[3,49.7],[5.4,45.5],[8.2,42.4],[10,39.4],[11.7,34.1],[14.3,31.1],[18,29.5],[22.5,28.8],[28.7,28.4],[33,28.6],[37.6,29.2],[42,29.8],[46.6,30.3],[51,30.7],[55.6,31.1],[60,31.5],[64.5,31.8],[69,32.2],[73.5,32.6],[78,33.2],[82.4,33.7],[87,34.1],[91.4,34.5],[97,35.0],[109,36.0],[118,36.8],[127,37.5],[136,38.2],[145,39.0],[154,39.7],[163,40.4],[172,41.1],[181,41.8],[190,42.5],[199,43.2],[208,43.9],[217,44.6],[226,45.3],[235,46.0],[244,46.6],[253,47.3],[262,47.9],[271,48.6],[280,49.2],[285,49.6]]
V250_T5 = [[-1,49.8],[7.2,49.7],[9.1,45.5],[10.4,37.9],[11.7,32.6],[14.3,30.3],[19.7,29.2],[26.9,28.4],[34,28.8],[42.1,29.9],[51,31.1],[60,31.8],[68.9,33],[77.9,33.7],[86.9,34.6],[97,35.3],[109,36.3],[118,37.0],[127,37.7],[136,38.5],[145,39.2],[154,39.9],[163,40.6],[172,41.3],[181,42.0],[190,42.7],[199,43.4],[208,44.1],[217,44.8],[226,45.5],[235,46.2],[244,46.8],[253,47.5],[262,48.1],[271,48.7],[280,49.3],[285,49.7]]
V250_T6 = [[-1,49.8],[12.6,49.7],[14.3,43.9],[16.1,36.4],[18,31.8],[20.6,29.9],[25.1,29.2],[30.5,28.8],[37.6,29.5],[46.6,30.7],[55.6,31.4],[64.5,32.6],[73.5,33.3],[82.4,34.5],[91.4,35.1],[97,35.5],[109,36.5],[118,37.2],[127,37.9],[136,38.7],[145,39.4],[154,40.1],[163,40.8],[172,41.5],[181,42.2],[190,42.9],[199,43.6],[208,44.3],[217,45.0],[226,45.6],[235,46.3],[244,46.9],[253,47.6],[262,48.2],[271,48.8],[280,49.4],[285,49.7]]
V250_T7 = [[-1,49.8],[15.2,49.7],[17.1,45.5],[19.7,39.4],[22.5,34.1],[25.1,31.1],[28.7,29.5],[33.1,29.5],[42.1,30.3],[51,31.1],[60,32.2],[68.9,33.3],[77.9,34.3],[86.9,35.2],[97,35.7],[109,36.6],[118,37.3],[127,38.1],[136,38.8],[145,39.5],[154,40.2],[163,40.9],[172,41.6],[181,42.3],[190,43.0],[199,43.7],[208,44.4],[217,45.1],[226,45.7],[235,46.4],[244,47.0],[253,47.7],[262,48.3],[271,48.9],[280,49.4],[285,49.8]]
V250_T8 = [[-1,49.9],[13.5,49.8],[15.2,47],[18,42.4],[21.5,40.2],[23.3,37.9],[26,34.1],[28.7,31.1],[31.3,30.3],[37.6,30.7],[46.6,31.4],[55.6,32.2],[64.5,33],[73.5,34.1],[82.4,34.8],[91.4,35.4],[97,35.8],[109,36.8],[118,37.4],[127,38.2],[136,38.9],[145,39.6],[154,40.3],[163,41.0],[172,41.7],[181,42.4],[190,43.1],[199,43.8],[208,44.5],[217,45.2],[226,45.8],[235,46.5],[244,47.1],[253,47.8],[262,48.4],[271,49.0],[280,49.5],[285,49.8]]
V250_T9 = [[-1,50],[18,49.9],[19.7,48.5],[21.5,45.5],[24.2,39.4],[26.9,34.1],[29.6,31.1],[32.2,29.9],[37.6,30.3],[46.6,31.1],[55.6,31.8],[64.5,33],[73.5,33.7],[82.4,34.8],[91.4,35.6],[97,36.0],[109,36.9],[118,37.5],[127,38.4],[136,39.0],[145,39.8],[154,40.3],[163,41.2],[172,41.8],[181,42.6],[190,43.1],[199,44.0],[208,44.5],[217,45.4],[226,45.9],[235,46.7],[244,47.1],[253,48.0],[262,48.4],[271,49.2],[280,49.5],[285,49.9]]
V250_T10 = [[-1,50],[22.9,49.9],[24.2,48.5],[26,43.9],[27.8,37.9],[29.6,33.3],[31.3,31.1],[34,30.3],[36,30.8],[37.6,31.1],[39.4,30.3],[42,30.6],[46.6,30.7],[51,31.2],[55.6,31.8],[60,32.2],[64.5,32.6],[69,33.3],[73.5,33.7],[78,34.2],[82.4,34.8],[87,35.5],[91.4,35.8],[97,36.2],[109,37.2],[118,37.4],[127,38.7],[136,38.9],[145,40.1],[154,40.2],[163,41.5],[172,41.7],[181,42.9],[190,43.0],[199,44.3],[208,44.4],[217,45.6],[226,45.8],[235,46.9],[244,47.2],[253,48.2],[262,48.5],[271,49.4],[280,49.6],[285,50]]
V250_D1 = [[-1,50],[3.9,48.9],[7.2,47.7],[10.8,45.5],[14.3,43.9],[17.1,43.2],[19.7,40.2],[22.5,36.4],[25.1,33.3],[27.8,31.1],[30.5,29.9],[37.6,30.2],[46.6,30.9],[55.6,31.7],[64.5,32.6],[73.5,33.4],[82.4,34.2],[91.4,34.9],[97,35.3],[109,36.3],[127,37.6],[145,39.2],[163,40.7],[181,42.1],[199,43.5],[217,44.9],[235,46.2],[253,47.5],[271,48.7],[285,49.6]]
V250_D2 = [[-1,50],[1.8,47],[5.4,43.9],[9.1,40.2],[12.6,36.4],[16.1,33.3],[19.7,31.1],[24.2,29.9],[28.7,29.2],[37.6,29.5],[46.6,30.3],[55.6,31.1],[64.5,31.9],[73.5,32.8],[82.4,33.6],[91.4,34.4],[97,34.8],[109,35.8],[127,37.2],[145,38.8],[163,40.3],[181,41.8],[199,43.2],[217,44.6],[235,45.9],[253,47.2],[271,48.4],[285,49.4]]

SOLID = [
    [V57_T1, V57_T2, V57_T3, V57_T4, V57_T5, V57_T6, V57_T7, V57_T8, V57_T9, V57_T10],
    [V114_T1, V114_T2, V114_T3, V114_T4, V114_T5, V114_T6, V114_T7, V114_T8, V114_T9, V114_T10],
    [V152_T1, V152_T2, V152_T3, V152_T4, V152_T5, V152_T6, V152_T7, V152_T8, V152_T9, V152_T10],
    [V190_T1, V190_T2, V190_T3, V190_T4, V190_T5, V190_T6, V190_T7, V190_T8, V190_T9, V190_T10],
    [V250_T1, V250_T2, V250_T3, V250_T4, V250_T5, V250_T6, V250_T7, V250_T8, V250_T9, V250_T10],
]
DOTTED = [
    [V57_D1, V57_D2],
    [V114_D1, V114_D2],
    [V152_D1, V152_D2],
    [V190_D1, None],
    [V250_D1, V250_D2],
]
X_TICKS = [X_TICKS_57, X_TICKS_114, X_TICKS_152, X_TICKS_190, X_TICKS_250]

# ---------------- STYLE / LAYOUT ----------------
W, H = 1229, 724
COLORS = ["#4D76CB", "#1E9FE8", "#62DAEE", "#8FCB50", "#CFC63A",
          "#FFD27A", "#F8A23A", "#F46A3C", "#EE2A22", "#C4160F"]
DOT_COLORS = ["#1AAE57", "#45AAE6"]
RED = "#FF2222"
GRAY = "#7f7f7f"

# panel geometry in pixels: left, right, top, bottom, x range
PANELS = [
    (54, 813, 13, 133, [-1.2, 212.5]),
    (54, 550, 152, 268, [-1.0, 140]),
    (58, 743, 290, 401, [-1.2, 190]),
    (50, 830, 428, 543, [-2.0, 210]),
    (54, 1121, 563, 673, [-1.5, 288]),
]


def fx(p):
    return p / W


def fy(p):
    return 1 - p / H


fig = go.Figure()
layout = dict(width=W, height=H, margin=dict(l=0, r=0, t=0, b=0),
              paper_bgcolor="white", plot_bgcolor="white", showlegend=False,
              template="none", font=dict(family="Noto Sans", color=GRAY))

for i, (l, r, t, b, xr) in enumerate(PANELS):
    n = "" if i == 0 else str(i + 1)
    xa, ya = "x" + n, "y" + n
    order = list(range(8)) + ["d2", "d1"] + [8, 9]
    for k in order:
        if k == "d1" or k == "d2":
            s = DOTTED[i][0 if k == "d1" else 1]
            if s is None:
                continue
            col = DOT_COLORS[0 if k == "d1" else 1]
            dash = "dot"
        else:
            s = SOLID[i][k]
            col = COLORS[k]
            dash = "solid"
        fig.add_trace(go.Scatter(x=[p[0] for p in s], y=[p[1] for p in s], mode="lines",
                                 xaxis=xa, yaxis=ya, hoverinfo="skip",
                                 line=dict(color=col, width=2.6, dash=dash)))
    layout["xaxis" + n] = dict(domain=[fx(l), fx(r)], range=xr, anchor=ya,
                               tickvals=X_TICKS[i], ticktext=[str(v) for v in X_TICKS[i]],
                               showline=True, linecolor="#d9d9d9", mirror=True, linewidth=1,
                               showgrid=False, zeroline=False, ticks="", automargin=False,
                               tickfont=dict(size=11, color=GRAY, family="Noto Sans"))
    layout["yaxis" + n] = dict(domain=[fy(b), fy(t)], range=[25, 50.25], anchor=xa,
                               tickvals=Y_TICKS, showline=True, linecolor="#d9d9d9",
                               mirror=True, linewidth=1, showgrid=False, zeroline=False,
                               ticks="", automargin=False,
                               tickfont=dict(size=12, color=GRAY, family="Noto Sans"),
                               title=dict(text="Temperature [℃]", standoff=9,
                                          font=dict(size=12, color="#595959", family="Noto Sans")))

shapes = []
ann = []


def dline(x0, y0, x1, y1, color=RED, width=2, dash="dash"):
    shapes.append(dict(type="line", xref="paper", yref="paper", x0=fx(x0), y0=fy(y0),
                       x1=fx(x1), y1=fy(y1), line=dict(color=color, width=width, dash=dash)))


def text(x, y, s, size, color, xanchor="left", family="Noto Sans", yanchor="middle"):
    ann.append(dict(xref="paper", yref="paper", x=fx(x), y=fy(y), text=s, showarrow=False,
                    xanchor=xanchor, yanchor=yanchor,
                    font=dict(size=size, color=color, family=family)))


def squiggle(x0, x1, y, amp=1.5, step=3.5):
    pts, up, x = [], True, x0
    while x <= x1:
        pts.append((x, y - amp if up else y + amp))
        up = not up
        x += step
    path = "M " + " L ".join(f"{fx(a):.5f},{fy(c):.5f}" for a, c in pts)
    shapes.append(dict(type="path", xref="paper", yref="paper", path=path,
                       line=dict(color="#FF4040", width=1.2)))


# panel 1: set-point line and label
shapes.append(dict(type="line", xref="paper", yref="y", x0=fx(54), x1=fx(823), y0=SETPOINT, y1=SETPOINT,
                   line=dict(color=RED, width=2, dash="dash")))
text(828, 38, "Did not", 21, RED)
text(828, 70, "recover", 21, RED)

# Draw-start vertical line through panels 2-5
dline(97, 152, 97, 690)
text(4, 708, "Draw start", 22, RED)

# per-panel annotations for panels 2..5
ON_Y = [175, 312, 451, 585]
MIN_LINE = [(108, 153, 282), (124, 290, 410), (133, 438, 548), (167, 563, 675)]
ELLIPSE = [(111, 240, 18, 34), (124, 382, 17, 32), (136, 531, 18, 27), (167, 668, 12, 20)]
ARROW = [((146, 206), (119, 236)), ((163, 345), (134, 376)), ((174, 478), (147, 519)), ((208, 622), (177, 652))]
TTEXT = [(127, 185), (150, 330), (162, 452), (184, 608)]
SQUIG = [(131, 193, 199), (150, 214, 343), (162, 227, 466), (185, 248, 622)]
REC = [(551, 242, 273), (747, 378, 409), (833, 521, 552), (1112, 653, 684)]
AXIS_PAD_LABEL = ["Recovery", "end"]

for j in range(4):
    oy = ON_Y[j]
    dline(48, oy, 87, oy)
    shapes.append(dict(type="circle", xref="paper", yref="paper", x0=fx(87), x1=fx(107),
                       y0=fy(oy + 8), y1=fy(oy - 8), fillcolor="white",
                       line=dict(color="#FF5050", width=1)))
    text(97, oy, "<b>on</b>", 10, RED, xanchor="center")
    mx, my0, my1 = MIN_LINE[j]
    dline(mx, my0, mx, my1)
    ex, ey, ew, eh = ELLIPSE[j]
    shapes.append(dict(type="circle", xref="paper", yref="paper", x0=fx(ex - ew / 2), x1=fx(ex + ew / 2),
                       y0=fy(ey + eh / 2), y1=fy(ey - eh / 2), line=dict(color="black", width=2)))
    (tx, ty), (hx, hy) = ARROW[j]
    ann.append(dict(xref="paper", yref="paper", x=fx(hx), y=fy(hy), ax=tx - hx, ay=ty - hy,
                    axref="pixel", ayref="pixel", text="", showarrow=True, arrowhead=2,
                    arrowsize=1, arrowwidth=1.8, arrowcolor="black"))
    lx, ly = TTEXT[j]
    text(lx, ly, "<span style='font-size:26px'>T</span><sub>bottom tank(T1~T5)</sub>= "
         + BOTTOM_T[j] + "<sup>o</sup> C", 21, "black")
    sx0, sx1, sy = SQUIG[j]
    squiggle(sx0, sx1, sy)
    rx, ry1, ry2 = REC[j]
    text(rx, ry1, AXIS_PAD_LABEL[0], 21, RED)
    text(rx, ry2, AXIS_PAD_LABEL[1], 21, RED)

# tank labels and time labels
TANK_POS = [(591, 122), (383, 248), (563, 386), (603, 528), (844, 655)]
TIME_POS = [(747, 128), (486, 263), (688, 396), (759, 537), (1056, 667)]
for j in range(5):
    x, y = TANK_POS[j]
    text(x, y, "<b>" + TANK_LABELS[j] + "</b>", 28, "#5f5f5f", xanchor="center", family="Liberation Serif")
    x, y = TIME_POS[j]
    text(x, y, "<b>" + TIME_LABEL + "</b>", 11, "#595959", xanchor="center", family="Noto Sans")

layout["shapes"] = shapes
layout["annotations"] = ann
fig.update_layout(**layout)
fig.write_html("out.html")
